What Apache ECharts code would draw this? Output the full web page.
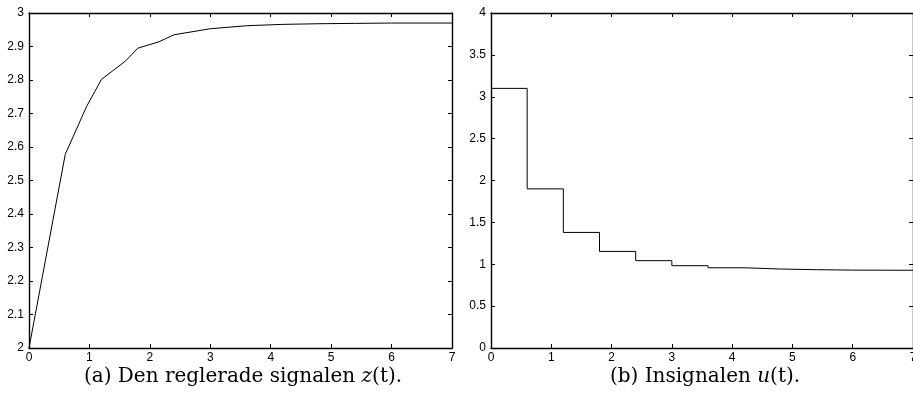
<!DOCTYPE html>
<html>
<head>
<meta charset="utf-8">
<script src="https://cdn.jsdelivr.net/npm/echarts@6/dist/echarts.min.js"></script>
<style>
  html, body { margin: 0; padding: 0; background: #fff; }
  #chart { width: 913px; height: 398px; }
</style>
</head>
<body>
<div id="chart"></div>
<script>
// (a) controlled signal z(t), piecewise linear
const zTime = [0, 0.6, 0.95, 1.2, 1.6, 1.8, 2.15, 2.4, 3.0, 3.6, 4.2, 4.8, 5.4, 6.0, 7.0];
const zValue = [2.0, 2.578, 2.72, 2.802, 2.857, 2.895, 2.914, 2.935, 2.953, 2.962, 2.966, 2.968, 2.969, 2.97, 2.97];

// (b) input signal u(t), held for 0.6 s per sample
const uTime = [0, 0.6, 1.2, 1.8, 2.4, 3.0, 3.6, 4.2, 4.8, 5.4, 6.0, 7.0];
const uValue = [3.1, 1.9, 1.38, 1.153, 1.043, 0.983, 0.958, 0.943, 0.935, 0.93, 0.928, 0.928];

const captionA = "(a) Den reglerade signalen ";
const captionB = "(b) Insignalen ";

const axisFont = { color: "#000", fontFamily: "Liberation Sans", fontSize: 12 };
const lineStyle = { color: "#000", width: 1.4 };

function xAxes(gridIndex) {
  const base = {
    type: "value",
    gridIndex: gridIndex,
    min: 0,
    max: 7,
    interval: 1,
    splitLine: { show: false },
    axisLine: { show: true, onZero: false, lineStyle: lineStyle },
    axisTick: { show: true, inside: true, length: 4, lineStyle: { color: "#000" } }
  };
  return [
    Object.assign({}, base, { position: "bottom", axisLabel: Object.assign({ margin: 4 }, axisFont) }),
    Object.assign({}, base, { position: "top", axisLabel: { show: false } })
  ];
}

function yAxes(gridIndex, min, max, interval) {
  const base = {
    type: "value",
    gridIndex: gridIndex,
    min: min,
    max: max,
    interval: interval,
    splitLine: { show: false },
    axisLine: { show: true, onZero: false, lineStyle: lineStyle },
    axisTick: { show: true, inside: true, length: 4, lineStyle: { color: "#000" } }
  };
  return [
    Object.assign({}, base, {
      position: "left",
      axisLabel: Object.assign({ margin: 5, formatter: (v) => String(+v.toFixed(1)) }, axisFont)
    }),
    Object.assign({}, base, { position: "right", axisLabel: { show: false } })
  ];
}

const captionStyle = {
  fontFamily: "DejaVu Serif",
  fontSize: 20,
  fontWeight: "normal",
  color: "#000",
  rich: { i: { fontFamily: "DejaVu Serif", fontStyle: "italic", fontSize: 20, color: "#000" } }
};

const chart = echarts.init(document.getElementById("chart"), null, { renderer: "canvas" });

chart.setOption({
  animation: false,
  backgroundColor: "#fff",
  grid: [
    { left: 29, top: 13, width: 423, height: 335, outerBoundsMode: "none" },
    { left: 491, top: 13, width: 422, height: 335, outerBoundsMode: "none" }
  ],
  xAxis: [...xAxes(0), ...xAxes(1)],
  yAxis: [...yAxes(0, 2, 3, 0.1), ...yAxes(1, 0, 4, 0.5)],
  title: [
    {
      text: captionA + "{i|z}(t).",
      left: 238,
      top: 362,
      textAlign: "center",
      textStyle: captionStyle
    },
    {
      text: captionB + "{i|u}(t).",
      left: 700,
      top: 362,
      textAlign: "center",
      textStyle: captionStyle
    }
  ],
  series: [
    {
      type: "line",
      xAxisIndex: 0,
      yAxisIndex: 0,
      data: zTime.map((t, i) => [t, zValue[i]]),
      showSymbol: false,
      lineStyle: { color: "#000", width: 1 }
    },
    {
      type: "line",
      xAxisIndex: 2,
      yAxisIndex: 2,
      step: "end",
      data: uTime.map((t, i) => [t, uValue[i]]),
      showSymbol: false,
      lineStyle: { color: "#000", width: 1 }
    }
  ]
});
</script>
</body>
</html>
